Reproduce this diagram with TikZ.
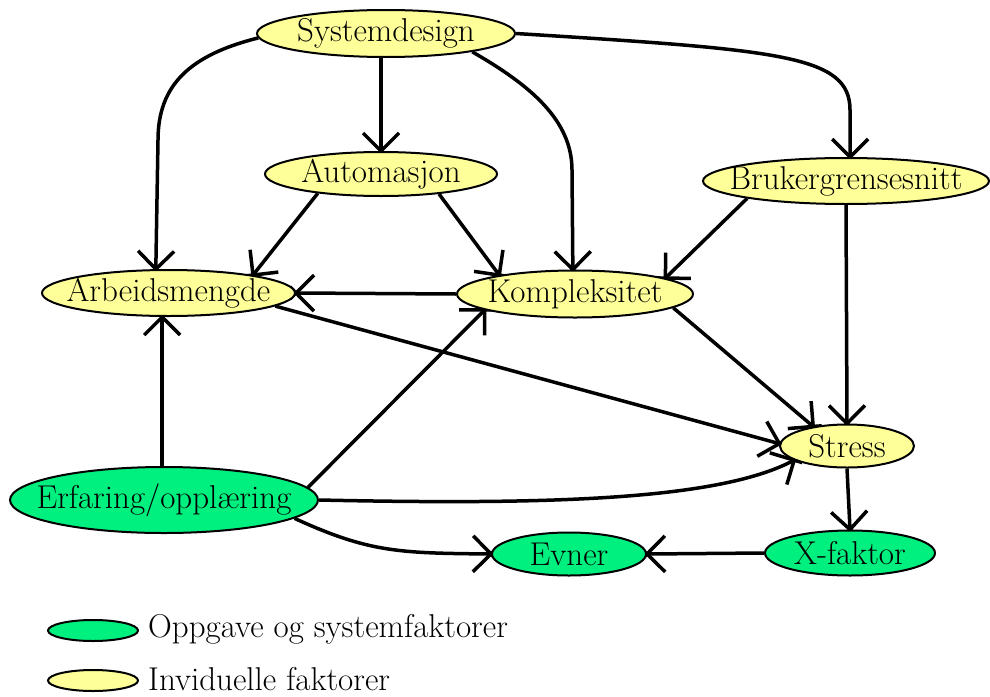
\documentclass[tikz,border=0pt]{standalone}
\usetikzlibrary{shapes.geometric,arrows.meta}

\definecolor{factyellow}{RGB}{255,255,153}
\definecolor{factgreen}{RGB}{0,240,128}

% connectors sit below the ellipses
\pgfdeclarelayer{links}
\pgfsetlayers{links,main}

% open barb whose two arms cross at the tip
\pgfdeclarearrow{
  name = Xbarb,
  setup code = {
    \pgfarrowssettipend{0pt}
    \pgfarrowssetlineend{0pt}
    \pgfarrowssetbackend{-18pt}
    \pgfarrowssetvisualbackend{-18pt}
    \pgfarrowshullpoint{6pt}{0pt}
    \pgfarrowsupperhullpoint{-18pt}{18pt}
  },
  drawing code = {
    \pgfsetlinewidth{3.5pt}
    \pgfsetdash{}{0pt}
    \pgfsetbuttcap
    \pgfpathmoveto{\pgfqpoint{-18pt}{18pt}}
    \pgfpathlineto{\pgfqpoint{6pt}{-6pt}}
    \pgfpathmoveto{\pgfqpoint{-18pt}{-18pt}}
    \pgfpathlineto{\pgfqpoint{6pt}{6pt}}
    \pgfusepathqstroke
  }
}

\begin{document}
\begin{tikzpicture}[x=1pt,y=-1pt,
  factor/.style={ellipse, draw=black, line width=2pt, inner sep=0pt},
  indiv/.style={factor, fill=factyellow},
  task/.style={factor, fill=factgreen},
  every label/.style={font=\fontsize{33}{38}\selectfont, inner sep=0pt},
  link/.style={line width=3.5pt, -{Xbarb}},
  legendtext/.style={anchor=base west, inner sep=0pt, font=\fontsize{33}{38}\selectfont}
]
\useasboundingbox (0,0) rectangle (990,696);

% factors
\node[indiv, minimum width=258, minimum height=47, label=center:Systemdesign] (sys) at (386,33.5) {};
\node[indiv, minimum width=232, minimum height=44, label=center:Automasjon] (aut) at (381,174) {};
\node[indiv, minimum width=286, minimum height=46, label=center:Brukergrensesnitt] (bru) at (846,181) {};
\node[indiv, minimum width=253, minimum height=46, label=center:Arbeidsmengde] (arb) at (168.5,293) {};
\node[indiv, minimum width=236, minimum height=47, label=center:Kompleksitet] (kom) at (575,294) {};
\node[indiv, minimum width=134, minimum height=43, label=center:Stress] (str) at (847,446) {};
\node[task, minimum width=308, minimum height=66, label=center:Erfaring/opplæring] (erf) at (164,500) {};
\node[task, minimum width=154, minimum height=43, label=center:Evner] (evn) at (569,554) {};
\node[task, minimum width=170, minimum height=45, label=center:X-faktor] (xf) at (850,553) {};

% legend
\node[task, minimum width=90, minimum height=21] (lg1) at (93,630.5) {};
\node[legendtext] (lt1) at (148,637) {Oppgave og systemfaktorer};
\node[indiv, minimum width=90, minimum height=21] (lg2) at (93,680.5) {};
\node[legendtext] (lt2) at (148,690) {Inviduelle faktorer};

% influences
\begin{pgfonlayer}{links}
\draw[link] (sys.182) .. controls (190,55) and (158,85) .. (158,140) -- (arb.118);
\draw[link] (sys.south -| aut.north) -- (aut.north);
\draw[link] (sys.-12) .. controls (530,85) and (572,120) .. (572,170) -- (kom.95);
\draw[link] (sys.east) .. controls (780,50) and (850,55) .. (850,110) -- (bru.80);
\draw[link] (aut.197) -- (arb.12);
\draw[link] (aut.-19) -- (kom.166);
\draw[link] (bru.190) -- (kom.10);
\draw[link] (bru.south) -- (str.north);
\draw[link] (kom.west) -- (arb.east);
\draw[link] (kom.-8) -- (str.150);
\draw[link] (arb.-7) -- (str.178);
\draw[link] (erf.93) -- (erf.93 |- arb.south);
\draw[link] (erf.5) -- (kom.190);
\draw[link] (erf.east) .. controls (550,505) and (720,500) .. (str.195);
\draw[link] (erf.-8) .. controls (370,553) and (400,553) .. (evn.west);
\draw[link] (str.south) -- (xf.north);
\draw[link] (xf.west) -- (evn.east);
\end{pgfonlayer}
\end{tikzpicture}
\end{document}
